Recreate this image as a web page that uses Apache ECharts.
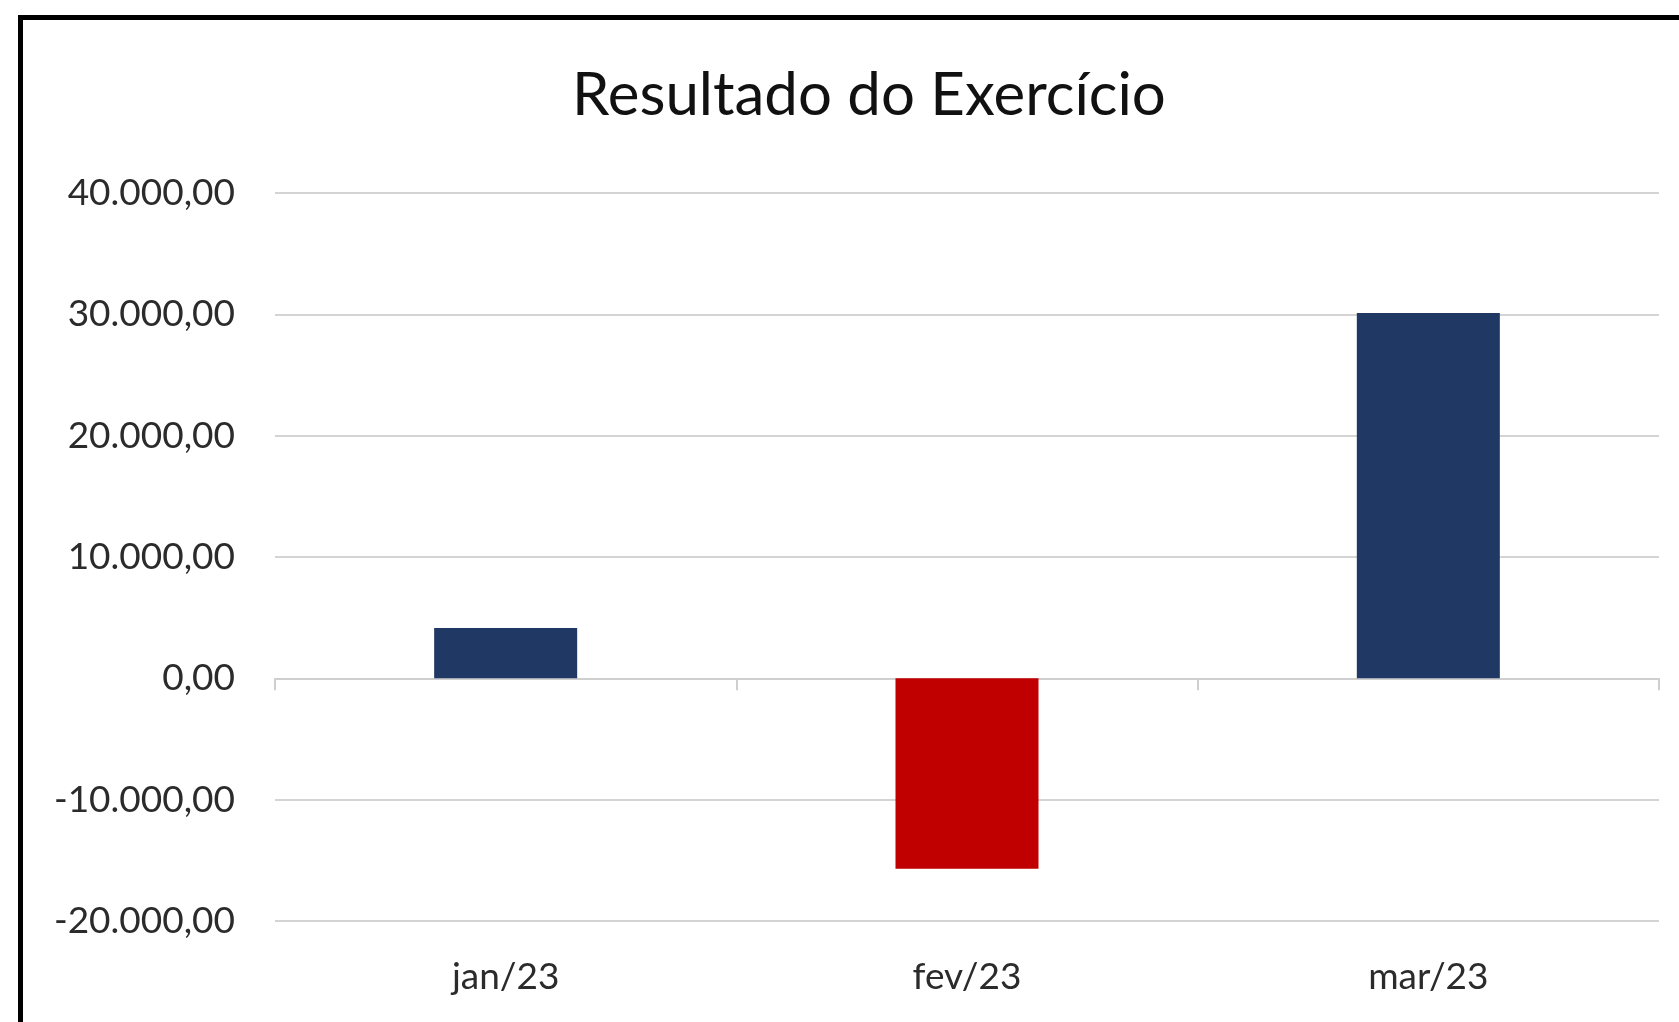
<!DOCTYPE html>
<html>
<head>
<meta charset="utf-8">
<title>Resultado do Exercício</title>
<script src="https://cdn.jsdelivr.net/npm/echarts@6/dist/echarts.min.js"></script>
<style>
  html, body { margin: 0; padding: 0; background: #fff; }
  #chart { width: 1679px; height: 1022px; }
</style>
</head>
<body>
<div id="chart"></div>
<script>
// dados
var categorias = ["jan/23", "fev/23", "mar/23"];
var resultado = [4150, -15700, 30100];
var eixoMin = -20000;
var eixoMax = 40000;
var eixoPasso = 10000;

var corPositivo = "#203864";
var corNegativo = "#C00000";
var fonte = "Lato, 'Open Sans', sans-serif";

// formato brasileiro: 40.000,00
function formataBR(v) {
  var neg = v < 0;
  var partes = Math.abs(v).toFixed(2).split(".");
  var inteiro = partes[0].replace(/\B(?=(\d{3})+(?!\d))/g, ".");
  return (neg ? "-" : "") + inteiro + "," + partes[1];
}

var chart = echarts.init(document.getElementById("chart"));

chart.setOption({
  animation: false,
  title: {
    text: "Resultado do Exercício",
    left: 864,
    top: 61,
    textAlign: "center",
    textStyle: {
      fontFamily: fonte,
      fontSize: 60,
      fontWeight: "normal",
      color: "#111"
    }
  },
  graphic: [
    {
      type: "rect",
      shape: { x: 20.5, y: 17.5, width: 2000, height: 2000 },
      style: { fill: "none", stroke: "#000", lineWidth: 5 },
      silent: true
    }
  ],
  grid: {
    left: 275,
    right: 20,
    top: 193,
    bottom: 101,
    containLabel: false
  },
  xAxis: [
    {
      type: "category",
      data: categorias,
      position: "bottom",
      axisLine: { show: false, onZero: false },
      axisTick: { show: false },
      axisLabel: {
        margin: 38,
        fontFamily: fonte,
        fontSize: 37,
        color: "#2b2b2b"
      }
    },
    {
      type: "category",
      data: categorias,
      position: "top",
      axisLine: { show: true, onZero: true, lineStyle: { color: "#cfcfcf", width: 2 } },
      axisTick: { show: true, inside: true, length: 12, lineStyle: { color: "#cfcfcf", width: 2 } },
      axisLabel: { show: false },
      splitLine: { show: false }
    }
  ],
  yAxis: {
    type: "value",
    min: eixoMin,
    max: eixoMax,
    interval: eixoPasso,
    axisLine: { show: false },
    axisTick: { show: false },
    splitLine: { lineStyle: { color: "#d4d4d4", width: 2 } },
    axisLabel: {
      margin: 40,
      fontFamily: fonte,
      fontSize: 37,
      color: "#2b2b2b",
      formatter: formataBR
    }
  },
  series: [
    {
      type: "bar",
      xAxisIndex: 0,
      data: resultado,
      barWidth: "31%",
      itemStyle: {
        color: function (p) {
          return p.value < 0 ? corNegativo : corPositivo;
        }
      }
    }
  ]
});
</script>
</body>
</html>
